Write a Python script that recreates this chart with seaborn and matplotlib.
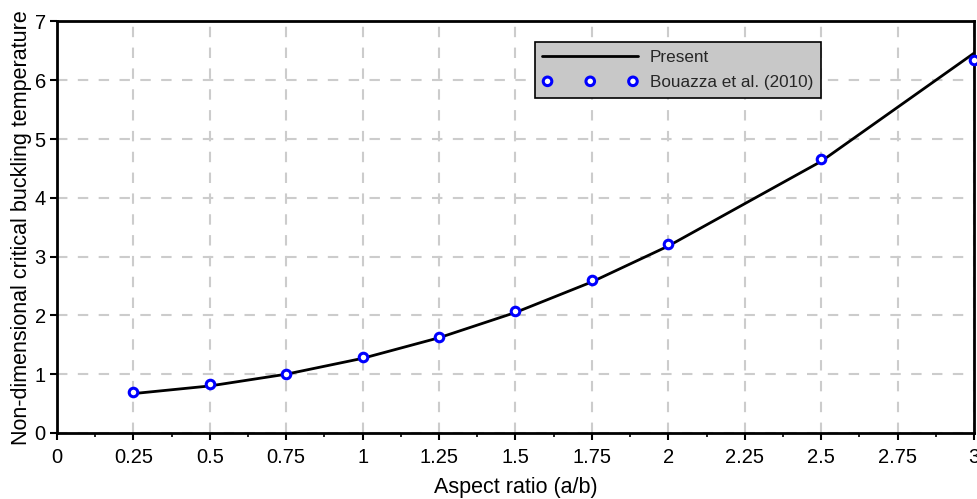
import matplotlib
matplotlib.use("Agg")
import matplotlib.pyplot as plt
import seaborn as sns
import pandas as pd
from matplotlib.ticker import MultipleLocator, FuncFormatter

aspect_ratio = [0.25, 0.5, 0.75, 1.0, 1.25, 1.5, 1.75, 2.0, 2.5, 3.0]
present = [0.67, 0.80, 1.00, 1.27, 1.62, 2.05, 2.57, 3.18, 4.62, 6.46]
bouazza = [0.70, 0.83, 1.01, 1.29, 1.64, 2.08, 2.61, 3.21, 4.66, 6.34]
x_ticks = [0, 0.25, 0.5, 0.75, 1, 1.25, 1.5, 1.75, 2, 2.25, 2.5, 2.75, 3]
y_ticks = [0, 1, 2, 3, 4, 5, 6, 7]

df = pd.DataFrame({"ar": aspect_ratio, "present": present, "bouazza": bouazza})

sns.set_theme(style="white")
plt.rcParams["font.family"] = ["Liberation Sans", "DejaVu Sans"]

fig = plt.figure(figsize=(9.77, 4.99), dpi=100)
ax = fig.add_axes([0.0583, 0.1323, 0.9386, 0.8247])

sns.lineplot(data=df, x="ar", y="present", ax=ax, color="black", linewidth=2,
             label="Present", zorder=3)
sns.scatterplot(data=df, x="ar", y="bouazza", ax=ax, marker="o", s=38,
                facecolor="white", edgecolor="blue", linewidth=2.2,
                label="Bouazza et al. (2010)", zorder=4, clip_on=False)

ax.set_xlim(0, 3)
ax.set_ylim(0, 7)
ax.set_xticks(x_ticks)
ax.set_yticks(y_ticks)
ax.xaxis.set_major_formatter(FuncFormatter(lambda v, p: f"{v:g}"))
ax.xaxis.set_minor_locator(MultipleLocator(0.125))

ax.grid(True, which="major", color="#cccccc", linestyle=(0, (5, 5)), linewidth=1.5)
ax.set_axisbelow(True)
for s in ax.spines.values():
    s.set_visible(True)
    s.set_color("black")
    s.set_linewidth(2)

ax.tick_params(axis="both", which="major", direction="out", length=5, width=1.5,
               color="black", labelsize=14.5, labelcolor="black", pad=3,
               bottom=True, left=True)
ax.tick_params(axis="x", which="major", pad=6)
ax.tick_params(axis="x", which="minor", direction="out", length=3, width=1.2,
               color="black", bottom=True)

ax.set_xlabel("Aspect ratio (a/b)", fontsize=15.5, color="black", labelpad=7)
ax.set_ylabel("Non-dimensional critical buckling temperature", fontsize=15.5,
              color="black", labelpad=2)

leg = ax.legend(loc="upper left", bbox_to_anchor=(0.521, 0.950), borderaxespad=0,
                fontsize=12.3, frameon=True, fancybox=False, facecolor="#c8c8c8",
                edgecolor="black", framealpha=1, handlelength=5.6,
                scatterpoints=3, scatteryoffsets=[0.5], handletextpad=0.7,
                borderpad=0.45, labelspacing=0.62)
leg.get_frame().set_linewidth(1.2)

fig.savefig("out.png", dpi=100)
